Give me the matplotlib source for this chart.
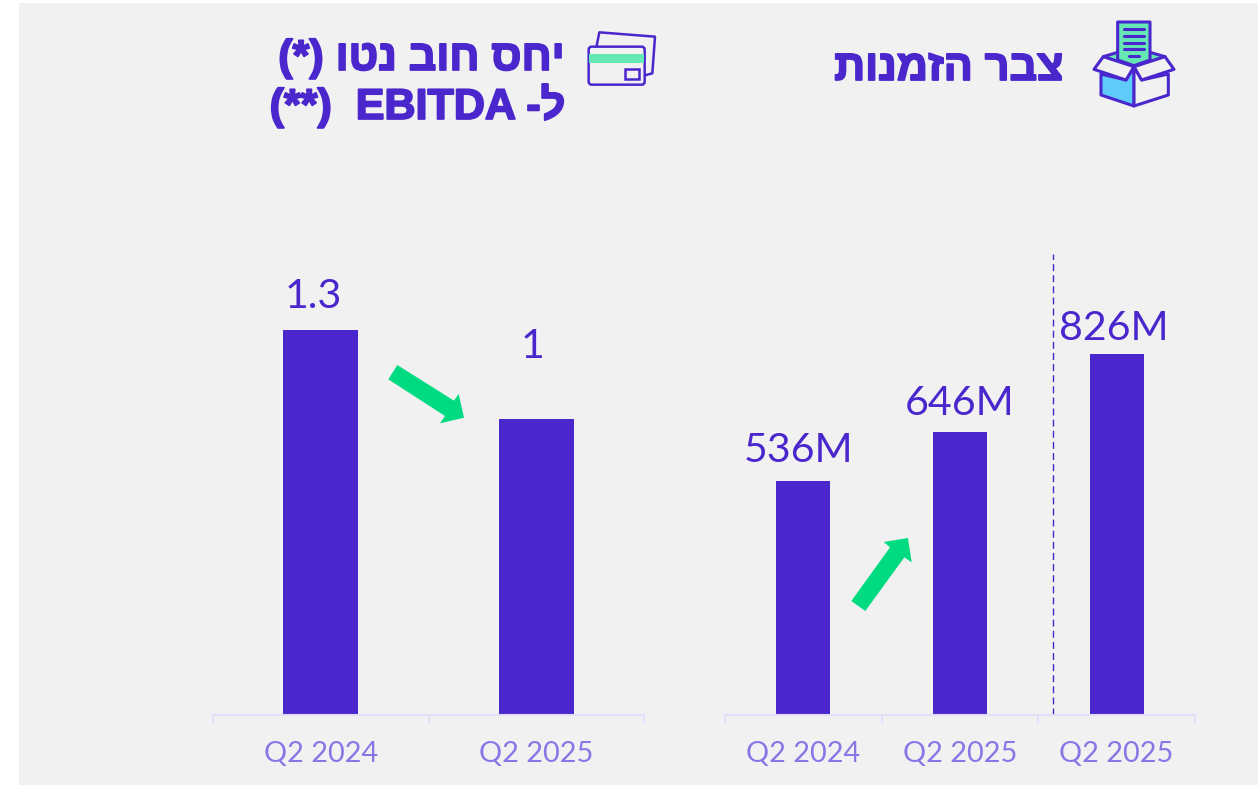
import matplotlib

matplotlib.use("Agg")
import matplotlib.pyplot as plt
import matplotlib.patheffects as pe
from matplotlib.patches import FancyBboxPatch, Polygon, Rectangle

WIDTH = 1258
HEIGHT = 785

PURPLE = "#4a27cc"
LABEL_PURPLE = "#8a75e6"
AXIS_LINE = "#e4e0fa"
GREEN = "#00db82"
PALE_GREEN = "#66e8b5"
BLUE = "#5ecbfb"
PANEL = "#f1f1f2"

backlog_categories = ["Q2 2024", "Q2 2025", "Q2 2025 "]
backlog_values = [536, 646, 826]
backlog_labels = ["536M", "646M", "826M"]

ratio_categories = ["Q2 2024", "Q2 2025"]
ratio_values = [1.3, 1.0]
ratio_labels = ["1.3", "1"]

# Hebrew is kept in logical order, matplotlib has no bidi so it gets flipped when drawn
backlog_title = "צבר הזמנות"
ratio_title_1 = "יחס חוב נטו"
ratio_title_2 = "ל"


def add_axes_px(fig, left, right, top, bottom):
	return fig.add_axes([left / WIDTH, 1 - bottom / HEIGHT, (right - left) / WIDTH, (bottom - top) / HEIGHT])


def style_bars(ax, categories, values, labels, bar_width, ymax, offsets):
	xs = list(range(len(categories)))
	ax.bar(xs, values, width=bar_width, color=PURPLE, zorder=2)
	ax.set_xlim(-0.5, len(categories) - 0.5)
	ax.set_ylim(0, ymax)
	ax.patch.set_alpha(0)
	for side in ["top", "left", "right"]:
		ax.spines[side].set_visible(False)
	ax.spines["bottom"].set_color(AXIS_LINE)
	ax.spines["bottom"].set_linewidth(1.5)
	ax.yaxis.set_visible(False)
	ax.set_xticks([x - 0.5 for x in xs] + [len(categories) - 0.5])
	ax.set_xticklabels([])
	ax.tick_params(axis="x", which="major", length=6, width=1.5, color=AXIS_LINE)
	ax.set_xticks(xs, minor=True)
	ax.set_xticklabels([c.strip() for c in categories], minor=True)
	ax.tick_params(axis="x", which="minor", length=0, pad=19, labelsize=20.8, labelcolor=LABEL_PURPLE)
	for x, value, label, (dx, dy) in zip(xs, values, labels, offsets):
		ax.annotate(label, (x, value), xytext=(dx, dy), textcoords="offset pixels",
			ha="center", va="center", fontsize=29.6, color=PURPLE)


def box_icon(ax):
	def pt(points):
		return [(820 + x / 3, y / 3) for x, y in points]

	edge = dict(edgecolor=PURPLE, linewidth=2.2, joinstyle="round")
	ax.add_patch(Polygon(pt([(850, 170), (893, 157), (990, 157), (1035, 170), (942, 200)]), facecolor=PALE_GREEN, **edge))
	ax.add_patch(Polygon(pt([(893, 66), (990, 66), (990, 180), (942, 197), (893, 180)]), facecolor=PALE_GREEN, **edge))
	for y, x0, x1 in [(88, 913, 972), (108, 913, 972), (128, 913, 972), (148, 913, 972), (169, 928, 957)]:
		ax.plot([820 + x0 / 3, 820 + x1 / 3], [y / 3, y / 3], color=PURPLE, lw=2.2, solid_capstyle="round")
	ax.add_patch(Polygon(pt([(843, 222), (918, 240), (942, 200), (942, 318), (843, 285)]), facecolor=BLUE, **edge))
	ax.add_patch(Polygon(pt([(1045, 222), (965, 240), (942, 200), (942, 318), (1045, 285)]), facecolor=PANEL, **edge))
	ax.add_patch(Polygon(pt([(850, 170), (942, 200), (918, 240), (822, 208)]), facecolor=PANEL, **edge))
	ax.add_patch(Polygon(pt([(1035, 170), (942, 200), (965, 240), (1062, 208)]), facecolor=PANEL, **edge))


def card_icon(ax):
	def pt(points):
		return [(250 + x / 3, y / 3) for x, y in points]

	ax.plot(*zip(*pt([(1040, 137), (1048, 97), (1215, 110), (1207, 220), (1188, 225)])), color=PURPLE, lw=1.8, solid_joinstyle="round")
	ax.add_patch(FancyBboxPatch((250 + 1016 / 3, 140 / 3), 168 / 3, 114 / 3, boxstyle="round,pad=0,rounding_size=3",
		facecolor=PANEL, edgecolor=PURPLE, linewidth=1.8))
	ax.add_patch(Rectangle((250 + 1017 / 3, 162 / 3), 166 / 3, 26 / 3, facecolor=PALE_GREEN, edgecolor="none"))
	ax.add_patch(Rectangle((250 + 1124 / 3, 208 / 3), 44 / 3, 28 / 3, facecolor="none", edgecolor=PURPLE, linewidth=1.8))


def main() -> None:
	fig = plt.figure(figsize=(WIDTH / 100, HEIGHT / 100), dpi=100, facecolor="white")
	plt.rcParams["font.family"] = ["Lato", "DejaVu Sans"]

	# Pixel-space layer for the panel, icons, headings and arrows
	bg = fig.add_axes([0, 0, 1, 1])
	bg.set_xlim(0, WIDTH)
	bg.set_ylim(HEIGHT, 0)
	bg.axis("off")
	bg.add_patch(Rectangle((19, 3), WIDTH - 19, HEIGHT - 3, facecolor=PANEL, edgecolor="none"))

	box_icon(bg)
	card_icon(bg)

	title_font = dict(family="Liberation Sans", fontweight="bold", fontsize=31, color=PURPLE, ha="right", va="center",
		path_effects=[pe.withStroke(linewidth=1.3, foreground=PURPLE)])
	bg.text(1063, 69, backlog_title[::-1], **title_font)
	bg.text(565, 59, "(*) " + ratio_title_1[::-1], **title_font)
	bg.text(565, 106, "(**)  EBITDA -" + ratio_title_2, **title_font)

	ratio_ax = add_axes_px(fig, 213, 644, 250, 715)
	style_bars(ratio_ax, ratio_categories, ratio_values, ratio_labels, 0.348, 1.57, [(-7, 33), (-4, 72)])

	backlog_ax = add_axes_px(fig, 725, 1195, 250, 714.5)
	style_bars(backlog_ax, backlog_categories, backlog_values, backlog_labels, 0.345, 1064, [(-5, 30), (0, 29), (-3, 25)])
	backlog_ax.vlines(1.594, 0, 1055, color=PURPLE, lw=1, linestyles=(0, (5, 3)), zorder=1)

	top = fig.add_axes([0, 0, 1, 1])
	top.set_xlim(0, WIDTH)
	top.set_ylim(HEIGHT, 0)
	top.axis("off")
	up = [(34, 243), (150, 82), (131, 66), (204, 54), (215, 127), (193, 112), (76, 273)]
	down = [(25, 73), (52, 30), (222, 137), (236, 117), (252, 188), (180, 205), (195, 183)]
	top.add_patch(Polygon([(840 + x / 3, 520 + y / 3) for x, y in up], facecolor=GREEN, edgecolor="none"))
	top.add_patch(Polygon([(380 + x / 3, 355 + y / 3) for x, y in down], facecolor=GREEN, edgecolor="none"))

	fig.savefig("out.png", dpi=100)
	plt.close(fig)


if __name__ == "__main__":
	main()
